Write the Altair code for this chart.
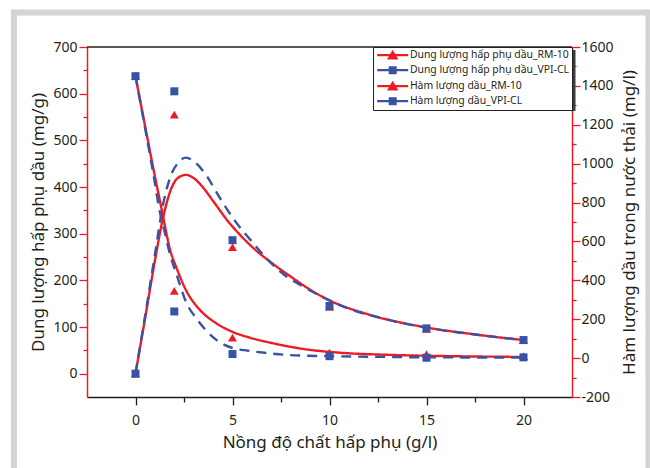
import altair as alt
import pandas as pd

# ---------------- data ----------------
x_pts = [0, 2, 5, 10, 15, 20]
cap_rm10 = [0, 555, 271, 143, 96, 72]        # mg/g (left axis)
cap_vpicl = [0, 605, 286, 145, 97, 72]       # mg/g (left axis)
oil_rm10 = [1450, 346, 105, 28, 21, 10]      # mg/l (right axis)
oil_vpicl = [1450, 240, 21, 10, 2, 4]        # mg/l (right axis)

# fitted curves
fit_cap_rm10_x = [0, 0.5, 1.0, 1.4, 1.8, 2.2, 2.6, 3.0, 3.5, 4.0, 4.8, 5.4, 6.0, 7.0, 8.0, 9.0, 10, 12, 15, 17.5, 20]
fit_cap_rm10_y = [0, 120, 242, 330, 392, 420, 426, 419, 398, 370, 325, 297, 272, 238, 208, 180, 157, 127, 99, 84, 72]

fit_cap_vpicl_x = [0, 0.5, 1.0, 1.4, 1.8, 2.2, 2.6, 3.0, 3.6, 4.3, 5.1, 6.0, 6.8, 7.7, 8.8, 10, 11.2, 12.6, 14, 15.2, 17.5, 20]
fit_cap_vpicl_y = [0, 125, 255, 358, 422, 452, 463, 455, 428, 380, 329, 283, 245, 211, 183, 157, 136, 120, 106, 97, 84, 72]

fit_oil_rm10_x = [0, 0.5, 1.0, 1.4, 1.75, 2.15, 2.6, 3.3, 4.15, 5.0, 5.9, 7.1, 8.8, 10.5, 13, 15.7, 20]
fit_oil_rm10_y = [1450, 1190, 935, 740, 570, 455, 350, 250, 180, 135, 105, 76, 45, 28, 17, 11, 6]

fit_oil_vpicl_x = [0, 0.5, 1.0, 1.2, 1.5, 1.75, 2.15, 2.6, 3.2, 4.15, 5.0, 5.8, 6.7, 7.9, 10, 12.3, 15, 20]
fit_oil_vpicl_y = [1450, 1180, 900, 780, 650, 545, 420, 290, 196, 95, 52, 38, 27, 16, 10, 7, 4, 3]

series_names = [
    "Dung lượng hấp phụ dầu_RM-10",
    "Dung lượng hấp phụ dầu_VPI-CL",
    "Hàm lượng dầu_RM-10",
    "Hàm lượng dầu_VPI-CL",
]

# ---------------- styles ----------------
RED = "#ED1C24"
BLUE = "#3953A4"
INK = "#231f20"
FONT = "Noto Sans"
W, H = 485, 350

def pts_df(xs, ys):
    return pd.DataFrame({"x": xs, "v": ys})

x_enc = alt.X(
    "x:Q",
    scale=alt.Scale(domain=[-2.5, 22.5], nice=False, zero=False),
    axis=alt.Axis(
        values=[0, 2.5, 5, 7.5, 10, 12.5, 15, 17.5, 20],
        labelExpr="datum.value % 5 === 0 ? datum.label : ''",
        tickSize={"condition": {"test": "datum.value % 5 === 0", "value": 8}, "value": 5},
        domainColor=INK, tickColor=INK, domainWidth=1.3, tickWidth=1.3,
        labelColor=INK, labelFont=FONT, labelFontSize=14, labelPadding=8,
        title="Nồng độ chất hấp phụ (g/l)", titleFont=FONT, titleFontSize=17,
        titleFontWeight="normal", titleColor=INK, titlePadding=7, grid=False,
        format="~g",
    ),
)

left_axis = alt.Axis(
    values=list(range(0, 701, 50)),
    labelExpr="datum.value % 100 === 0 ? datum.label : ''",
    tickSize={"condition": {"test": "datum.value % 100 === 0", "value": 8}, "value": 4},
    domainColor=RED, tickColor=RED, domainWidth=1.5, tickWidth=1.3,
    labelColor=INK, labelFont=FONT, labelFontSize=14, labelPadding=2,
    title="Dung lượng hấp phụ dầu (mg/g)", titleFont=FONT, titleFontSize=17,
    titleFontWeight="normal", titleColor=INK, titlePadding=5, grid=False,
)
right_axis = alt.Axis(
    orient="right",
    values=list(range(-200, 1601, 100)),
    labelExpr="datum.value % 200 === 0 ? toString(datum.value) : ''",
    tickSize={"condition": {"test": "datum.value % 200 === 0", "value": 8}, "value": 4},
    domainColor=RED, tickColor=RED, domainWidth=1.5, tickWidth=1.3,
    labelColor=INK, labelFont=FONT, labelFontSize=14, labelPadding=1,
    title="Hàm lượng dầu trong nước thải (mg/l)", titleFont=FONT, titleFontSize=17,
    titleFontWeight="normal", titleColor=INK, titlePadding=8, titleAngle=270,
    titleBaseline="top", grid=False,
)

yl = alt.Y("v:Q", scale=alt.Scale(domain=[-50, 700], nice=False, zero=False), axis=left_axis)
yr = alt.Y("v:Q", scale=alt.Scale(domain=[-200, 1600], nice=False, zero=False), axis=right_axis)

def line(xs, ys, color, dashed, y):
    m = alt.Chart(pts_df(xs, ys)).mark_line(
        color=color, strokeWidth=2.4, interpolate="monotone",
        strokeDash=[10, 7] if dashed else [1, 0],
    )
    return m.encode(x=x_enc, y=y)

def points(xs, ys, color, shape, size, y):
    return alt.Chart(pts_df(xs, ys)).mark_point(
        filled=True, color=color, shape=shape, size=size, opacity=1
    ).encode(x=x_enc, y=y)

one = pd.DataFrame({"a": [0]})

# decorative outer gray frame, top border, legend shadow
frame = alt.Chart(one).mark_rect(filled=False, stroke="#d4d4d4", strokeWidth=6).encode(
    x=alt.value(-73), x2=alt.value(561.5), y=alt.value(-34.5), y2=alt.value(440)
)
top_rule = alt.Chart(one).mark_rule(color=INK, strokeWidth=1.3).encode(
    x=alt.value(0), x2=alt.value(W), y=alt.value(0)
)
shadow = alt.Chart(one).mark_rect(fill="#3c3c3c").encode(
    x=alt.value(289), x2=alt.value(488.5), y=alt.value(3), y2=alt.value(64)
)

# legend (symbols = line + marker)
path_tri = "M-3.1,-0.22L3.1,-0.22L3.1,0.22L-3.1,0.22Z M0,-1.1L1.15,0.85L-1.15,0.85Z"
path_sq = "M-3.1,-0.22L3.1,-0.22L3.1,0.22L-3.1,0.22Z M-0.8,-0.8L0.8,-0.8L0.8,0.8L-0.8,0.8Z"
legend_df = pd.DataFrame({"series": series_names})
legend_layer = alt.Chart(legend_df).mark_point(filled=True, opacity=1).encode(
    color=alt.Color(
        "series:N",
        scale=alt.Scale(domain=series_names, range=[RED, BLUE, RED, BLUE]),
        legend=alt.Legend(
            orient="none", legendX=286, legendY=0, title=None,
            labelFont=FONT, labelFontSize=10.4, labelColor=INK, labelLimit=400,
            symbolSize=100, symbolStrokeWidth=0, symbolOffset=11.5, labelOffset=12,
            padding=3, rowPadding=4, strokeColor=INK, fillColor="white",
        ),
    ),
    shape=alt.Shape(
        "series:N",
        scale=alt.Scale(domain=series_names, range=[path_tri, path_sq, path_tri, path_sq]),
    ),
).transform_filter("false")

left = alt.layer(
    frame,
    top_rule,
    shadow,
    line(fit_cap_rm10_x, fit_cap_rm10_y, RED, False, yl),
    line(fit_cap_vpicl_x, fit_cap_vpicl_y, BLUE, True, yl),
    points(x_pts, cap_rm10, RED, "triangle-up", 80, yl),
    points(x_pts, cap_vpicl, BLUE, "square", 64, yl),
    legend_layer,
)
right = alt.layer(
    line(fit_oil_rm10_x, fit_oil_rm10_y, RED, False, yr),
    line(fit_oil_vpicl_x, fit_oil_vpicl_y, BLUE, True, yr),
    points(x_pts, oil_rm10, RED, "triangle-up", 80, yr),
    points(x_pts, oil_vpicl, BLUE, "square", 64, yr),
)

chart = alt.layer(left, right).resolve_scale(y="independent").properties(
    width=W, height=H,
    autosize=alt.AutoSizeParams(type="none"),
    padding={"left": 87, "top": 47, "right": 78, "bottom": 71},
    background="white",
).configure_view(stroke=None)

chart.save("out.html", embed_options={"renderer": "svg", "actions": False})
